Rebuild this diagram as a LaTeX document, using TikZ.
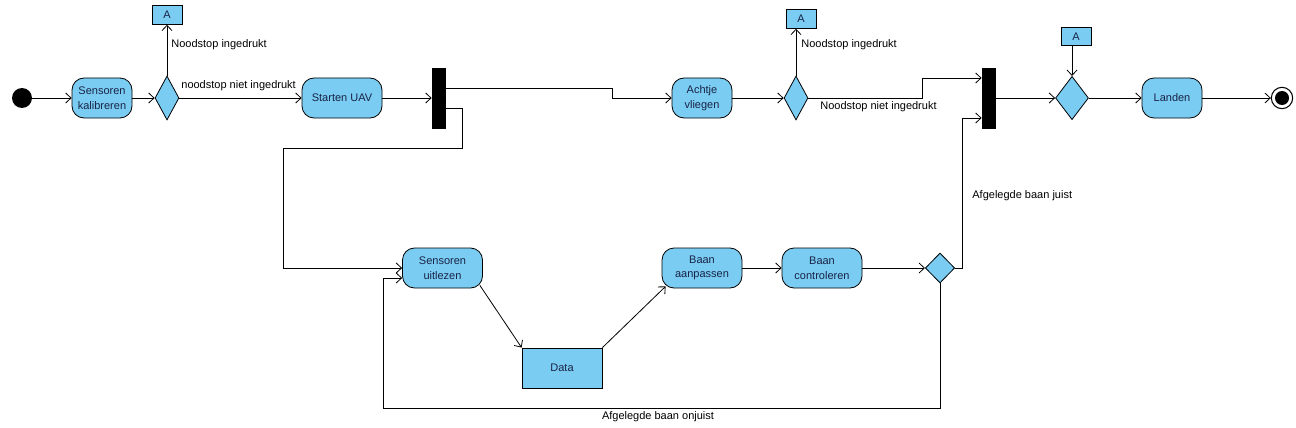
\documentclass[tikz,border=0pt]{standalone}
\usepackage{fontspec}
\setmainfont{Liberation Sans}
\usetikzlibrary{shapes.geometric,arrows.meta,calc}
\definecolor{uml}{RGB}{122,204,242}
\definecolor{umltext}{RGB}{25,35,70}
\begin{document}
\begin{tikzpicture}[x=0.75pt,y=-0.75pt,
  font=\fontsize{8.25}{11}\selectfont,
  line width=0.6pt,
  act/.style={draw, fill=uml, rounded corners=9pt, minimum width=45pt, minimum height=30pt, align=center, inner sep=1pt, text=umltext},
  wide/.style={minimum width=60pt},
  datab/.style={draw, fill=uml, minimum width=60pt, minimum height=30pt, inner sep=1pt, text=umltext},
  dec/.style={draw, fill=uml, diamond, inner sep=0pt, minimum width=18pt, minimum height=33pt},
  obj/.style={draw, fill=uml, minimum width=22.5pt, minimum height=14pt, inner sep=0pt, text=umltext},
  bar/.style={draw, fill=black, minimum width=9.75pt, minimum height=45pt, inner sep=0pt},
  initnode/.style={circle, fill=black, minimum size=15pt, inner sep=0pt},
  finalnode/.style={circle, draw, minimum size=16pt, inner sep=0pt, line width=0.8pt},
  lbl/.style={anchor=west, inner sep=0pt},
  arr/.style={-{Straight Barb[length=4pt,width=7.5pt]}}
]
\useasboundingbox (0,0) rectangle (1296,428);

% top row
\node[initnode] (start) at (22,98) {};
\node[act] (kal) at (102,98) {Sensoren\\kalibreren};
\node[dec] (d1) at (167,98) {};
\node[obj] (a1) at (167,15) {A};
\node[act, wide] (uav) at (342,98) {Starten UAV};
\node[bar] (f1) at (438.5,98) {};
\node[act] (acht) at (702,98) {Achtje\\vliegen};
\node[dec] (d2) at (796,98) {};
\node[obj] (a2) at (801,19) {A};
\node[bar] (f2) at (988.5,98) {};
\node[dec, minimum width=24.75pt, minimum height=32.5pt] (d3) at (1072,98) {};
\node[obj] (a3) at (1076,36.5) {A};
\node[act] (land) at (1172,98) {Landen};
\node[finalnode] (end) at (1282,98) {};
\fill (end.center) circle (5.25pt);

% bottom row
\node[act, wide] (uit) at (442.5,268) {Sensoren\\uitlezen};
\node[datab] (data) at (562,368) {Data};
\node[act, wide] (aanp) at (702,268) {Baan\\aanpassen};
\node[act, wide] (contr) at (822,268) {Baan\\controleren};
\node[dec, minimum width=22pt, minimum height=22.5pt] (d4) at (940,268) {};

% connectors
\draw[arr] (start) -- (kal);
\draw[arr] (kal) -- (d1);
\draw[arr] (d1.north) -- (d1.north |- a1.south);
\draw[arr] (d1) -- (uav);
\draw[arr] (uav) -- (f1);
\draw[arr] ([yshift=7.5pt]f1.east) -| (612,98) -- (acht);
\draw[arr] ([yshift=-7.5pt]f1.east) -| (462,148) -| (283,268) -- (uit.west);
\draw[arr] (acht) -- (d2);
\draw[arr] (d2.north) -- (d2.north |- a2.south);
\draw[arr] (d2.east) -| (922,78) -- ([yshift=15pt]f2.west);
\draw[arr] (f2) -- (d3);
\draw[arr] (d3.north |- a3.south) -- (d3.north);
\draw[arr] (d3) -- (land);
\draw[arr] (land) -- (end);
\draw[arr] ([shift={(-3,-3)}]uit.south east) -- (data.north west);
\draw[arr] (data.north east) -- ([shift={(4,-2)}]aanp.south west);
\draw[arr] (aanp) -- (contr);
\draw[arr] (contr) -- (d4);
\draw[arr] (d4.south) |- (383,408) -- (383,278) -- ([yshift=-7.5pt]uit.west);
\draw[arr] (d4.east) -| (962,118) -- ([yshift=-15pt]f2.west);

% labels
\node[lbl] (l1) at (171,45) {Noodstop ingedrukt};
\node[lbl] (l2) at (181,86) {noodstop niet ingedrukt};
\node[lbl] (l3) at (801,45) {Noodstop ingedrukt};
\node[lbl] (l4) at (820,107) {Noodstop niet ingedrukt};
\node[lbl] (l5) at (972,196) {Afgelegde baan juist};
\node[inner sep=0pt] (l6) at (658,417) {Afgelegde baan onjuist};
\end{tikzpicture}
\end{document}
